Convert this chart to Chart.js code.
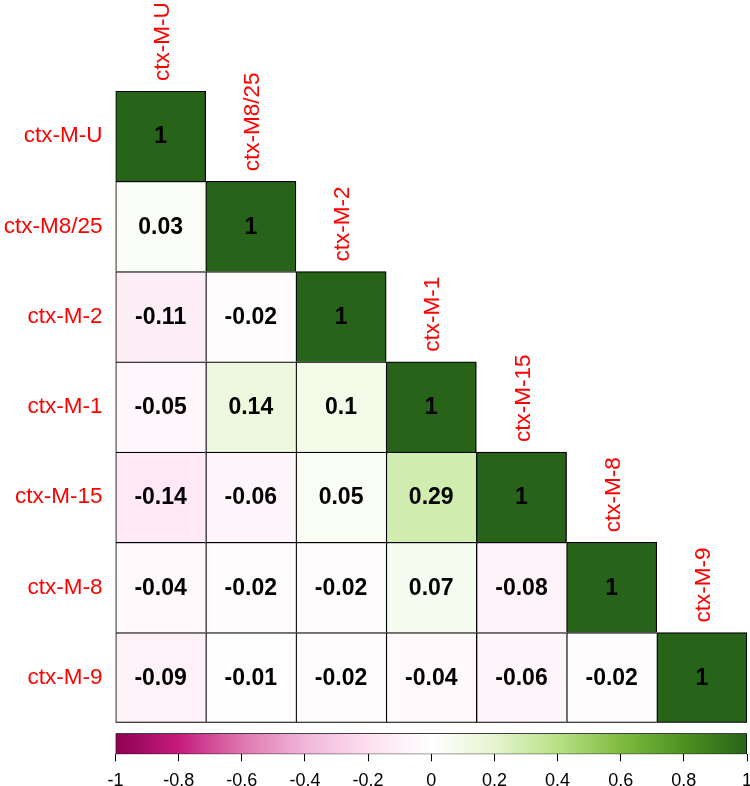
<!DOCTYPE html>
<html>
<head>
<meta charset="utf-8">
<script src="https://cdn.jsdelivr.net/npm/chart.js@4.4.1/dist/chart.umd.min.js"></script>
<style>
  html, body { margin: 0; padding: 0; background: #fff; overflow: hidden; }
  #wrap { position: relative; width: 750px; height: 786px; overflow: hidden; }
  #mainBox { position: absolute; left: 0; top: 0; width: 750px; height: 786px; }
  #scaleBox { position: absolute; left: 0; top: 725px; width: 790px; height: 61px; }
</style>
</head>
<body>
<div id="wrap">
  <div id="mainBox"><canvas id="corrChart"></canvas></div>
  <div id="scaleBox"><canvas id="scaleChart"></canvas></div>
</div>
<script>
// variables, in row order (top to bottom) and column order (left to right)
const variables = ['ctx-M-U', 'ctx-M8/25', 'ctx-M-2', 'ctx-M-1', 'ctx-M-15', 'ctx-M-8', 'ctx-M-9'];

// lower triangle of the correlation matrix, one array per row
const corrRows = [
    [1],
    [0.03, 1],
    [-0.11, -0.02, 1],
    [-0.05, 0.14, 0.1, 1],
    [-0.14, -0.06, 0.05, 0.29, 1],
    [-0.04, -0.02, -0.02, 0.07, -0.08, 1],
    [-0.09, -0.01, -0.02, -0.04, -0.06, -0.02, 1]
];

// colour bar ticks
const scaleTicks = [-1, -0.8, -0.6, -0.4, -0.2, 0, 0.2, 0.4, 0.6, 0.8, 1];

// PiYG ramp (corrplot COL2)
const paletteStops = ['#8E0152', '#C51B7D', '#DE77AE', '#F1B6DA', '#FDE0EF', '#FFFFFF',
                      '#E6F5D0', '#B8E186', '#7FBC41', '#4D9221', '#276419'];

const FONT = '"Liberation Sans", Arial, Helvetica, sans-serif';
Chart.defaults.font.family = FONT;

function hexToRgb(hex) {
    const n = parseInt(hex.slice(1), 16);
    return [(n >> 16) & 255, (n >> 8) & 255, n & 255];
}

function corrColor(v) {
    const pos = (v + 1) / 2 * (paletteStops.length - 1);
    const i = Math.min(Math.floor(pos), paletteStops.length - 2);
    const t = pos - i;
    const a = hexToRgb(paletteStops[i]);
    const b = hexToRgb(paletteStops[i + 1]);
    const mix = a.map((ch, k) => Math.round(ch + (b[k] - ch) * t));
    return `rgb(${mix[0]}, ${mix[1]}, ${mix[2]})`;
}

const last = variables.length - 1;
const cells = [];
corrRows.forEach((row, r) => {
    row.forEach((v, c) => {
        cells.push({ y: variables[r], x: [c, c + 1], v: v, r: r, c: c });
    });
});

const cellLabels = {
    id: 'cellLabels',
    afterDatasetsDraw(chart) {
        const ctx = chart.ctx;
        const meta = chart.getDatasetMeta(0);
        const xScale = chart.scales.x;
        ctx.save();

        // numbers inside the cells
        ctx.font = `bold 23px ${FONT}`;
        ctx.fillStyle = '#000';
        ctx.textAlign = 'center';
        ctx.textBaseline = 'middle';
        meta.data.forEach((bar, i) => {
            const p = bar.getCenterPoint();
            ctx.fillText(String(cells[i].v), p.x, p.y + 1);
        });

        // column names above the diagonal
        ctx.font = `22.5px ${FONT}`;
        ctx.fillStyle = '#ff0000';
        ctx.textAlign = 'left';
        meta.data.forEach((bar, i) => {
            const cell = cells[i];
            if (cell.r !== cell.c) return;
            const cx = xScale.getPixelForValue(cell.c + 0.5);
            const top = bar.y - bar.height / 2;
            ctx.save();
            ctx.translate(cx + 2, top - 10);
            ctx.rotate(-Math.PI / 2);
            ctx.fillText(variables[cell.c], 0, 0);
            ctx.restore();
        });
        ctx.restore();
    }
};

new Chart(document.getElementById('corrChart'), {
    type: 'bar',
    data: {
        labels: variables,
        datasets: [{
            data: cells,
            backgroundColor: ctx => corrColor(ctx.raw.v),
            borderColor: '#000',
            borderWidth: ctx => ({
                left: 1.3,
                top: 1.3,
                right: ctx.raw.c === ctx.raw.r ? 1.3 : 0,
                bottom: ctx.raw.r === last ? 1.3 : 0
            }),
            borderSkipped: false,
            barPercentage: 1,
            categoryPercentage: 1
        }]
    },
    options: {
        indexAxis: 'y',
        responsive: true,
        maintainAspectRatio: false,
        animation: false,
        layout: { padding: { top: 91, right: 3, bottom: 63.3, left: 0 } },
        plugins: {
            legend: { display: false },
            tooltip: { enabled: false }
        },
        scales: {
            x: { type: 'linear', min: 0, max: 7, display: false },
            y: {
                type: 'category',
                grid: { display: false, drawTicks: false },
                border: { display: false },
                ticks: { color: '#ff0000', font: { size: 22.5 }, padding: 13 },
                afterFit(scale) { scale.width = 115.5; }
            }
        }
    },
    plugins: [cellLabels]
});

// colour bar: its canvas is wider than the page so the "1" label can hang over the edge
new Chart(document.getElementById('scaleChart'), {
    type: 'bar',
    data: {
        labels: ['scale'],
        datasets: [{
            data: [[-1, 1]],
            backgroundColor(ctx) {
                const area = ctx.chart.chartArea;
                if (!area) return '#fff';
                const g = ctx.chart.ctx.createLinearGradient(area.left, 0, area.right, 0);
                paletteStops.forEach((col, i) => g.addColorStop(i / (paletteStops.length - 1), col));
                return g;
            },
            borderColor: '#000',
            borderWidth: 1,
            borderSkipped: false,
            barPercentage: 1,
            categoryPercentage: 1
        }]
    },
    options: {
        indexAxis: 'y',
        responsive: true,
        maintainAspectRatio: false,
        animation: false,
        layout: { padding: { top: 8.3, right: 43, bottom: 0, left: 115.5 } },
        plugins: {
            legend: { display: false },
            tooltip: { enabled: false }
        },
        scales: {
            y: { display: false },
            x: {
                type: 'linear',
                min: -1,
                max: 1,
                afterBuildTicks(scale) { scale.ticks = scaleTicks.map(v => ({ value: v })); },
                afterFit(scale) { scale.height = 31.7; },
                grid: { drawOnChartArea: false, drawTicks: true, tickLength: 7, color: '#000' },
                border: { display: false },
                ticks: {
                    color: '#000',
                    font: { size: 18 },
                    padding: 9,
                    autoSkip: false,
                    maxRotation: 0,
                    callback: v => String(v)
                }
            }
        }
    }
});
</script>
</body>
</html>
